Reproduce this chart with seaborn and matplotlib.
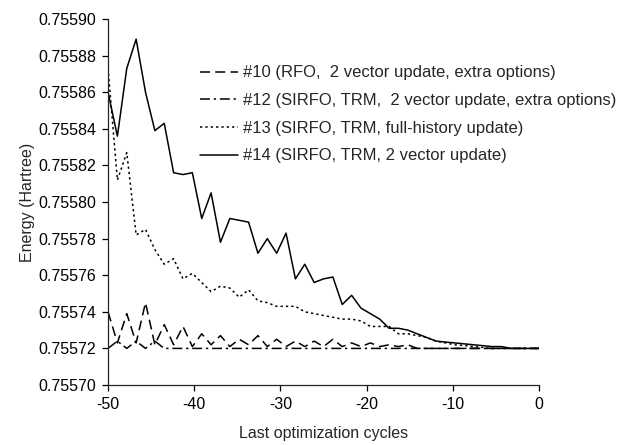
import numpy as np
import pandas as pd
import matplotlib
matplotlib.use("Agg")
import matplotlib.pyplot as plt
import seaborn as sns
from matplotlib.ticker import FormatStrFormatter, MultipleLocator

# last optimization cycles (47 recorded points spanning -50 .. 0)
cycles = np.linspace(-50, 0, 47)

labels = [
    "#10 (RFO,  2 vector update, extra options)",
    "#12 (SIRFO, TRM,  2 vector update, extra options)",
    "#13 (SIRFO, TRM, full-history update)",
    "#14 (SIRFO, TRM, 2 vector update)",
]

# energies (Hartree)
e_run10 = [
    0.755740, 0.755723, 0.755739, 0.755723, 0.755745, 0.755722, 0.755733, 0.755722,
    0.755732, 0.755721, 0.755728, 0.755722, 0.755727, 0.755721, 0.755725, 0.755722,
    0.755727, 0.755721, 0.755725, 0.755721, 0.755724, 0.755721, 0.755724, 0.755721,
    0.755725, 0.755721, 0.755723, 0.755721, 0.755723, 0.755721, 0.755722, 0.755721,
    0.755722, 0.755720, 0.755720, 0.755720, 0.755720, 0.755720, 0.755720, 0.755720,
    0.755720, 0.755720, 0.755720, 0.755720, 0.755720, 0.755720, 0.755720,
]
e_run12 = [
    0.755720, 0.755724, 0.755720, 0.755724, 0.755720, 0.755724, 0.755720, 0.755720,
    0.755720, 0.755720, 0.755720, 0.755720, 0.755720, 0.755720, 0.755720, 0.755720,
    0.755720, 0.755720, 0.755720, 0.755720, 0.755720, 0.755720, 0.755720, 0.755720,
    0.755720, 0.755720, 0.755720, 0.755720, 0.755720, 0.755720, 0.755720, 0.755720,
    0.755720, 0.755720, 0.755720, 0.755720, 0.755720, 0.755720, 0.755720, 0.755720,
    0.755720, 0.755720, 0.755720, 0.755720, 0.755720, 0.755720, 0.755720,
]
e_run13 = [
    0.755873, 0.755812, 0.755827, 0.755782, 0.755785, 0.755774, 0.755766, 0.755769,
    0.755758, 0.755761, 0.755756, 0.755751, 0.755754, 0.755753, 0.755748, 0.755752,
    0.755746, 0.755745, 0.755743, 0.755743, 0.755743, 0.755740, 0.755739, 0.755738,
    0.755737, 0.755736, 0.755736, 0.755735, 0.755732, 0.755732, 0.755732, 0.755728,
    0.755728, 0.755727, 0.755726, 0.755724, 0.755723, 0.755722, 0.7557216, 0.755721,
    0.7557205, 0.755720, 0.755720, 0.755720, 0.755720, 0.755720, 0.755720,
]
e_run14 = [
    0.755860, 0.755836, 0.755873, 0.755889, 0.755860, 0.755839, 0.755843, 0.755816,
    0.755815, 0.755816, 0.755791, 0.755805, 0.755778, 0.755791, 0.755790, 0.755789,
    0.755772, 0.755780, 0.755772, 0.755783, 0.755758, 0.755766, 0.755756, 0.755758,
    0.755759, 0.755744, 0.755749, 0.755742, 0.755739, 0.755736, 0.755731, 0.755731,
    0.755730, 0.755728, 0.755726, 0.755724, 0.7557235, 0.755723, 0.7557225, 0.755722,
    0.7557215, 0.755721, 0.755721, 0.755720, 0.755720, 0.755720, 0.755720,
]

sns.set_style("ticks")
plt.rcParams["font.family"] = ["Liberation Sans", "DejaVu Sans"]
plt.rcParams["axes.linewidth"] = 0.9
plt.rcParams["axes.unicode_minus"] = False

fig = plt.figure(figsize=(6.23, 4.45), dpi=100)
ax = fig.add_axes([0.1734, 0.1348, 0.6918, 0.8225])

styles = [(0, (6.5, 3.5)), (0, (6.5, 2.5, 1.5, 2.5)), (0, (1.5, 2.0)), "-"]
for lab, energy, ls in zip(labels, [e_run10, e_run12, e_run13, e_run14], styles):
    df = pd.DataFrame({"cycle": cycles, "energy": energy})
    sns.lineplot(data=df, x="cycle", y="energy", ax=ax, color="black",
                 linewidth=1.1, linestyle=ls, label=lab)

ax.set_xlim(-50, 0)
ax.set_ylim(0.75570, 0.75590)
ax.xaxis.set_major_locator(MultipleLocator(10))
ax.yaxis.set_major_locator(MultipleLocator(0.00002))
ax.yaxis.set_major_formatter(FormatStrFormatter("%.5f"))
ax.tick_params(labelsize=11.5, length=4.3, width=0.9, pad=4.3, colors="black")
ax.set_xlabel("Last optimization cycles", fontsize=11.5, labelpad=10)
ax.set_ylabel("Energy (Hartree)", fontsize=11.5, labelpad=2)
sns.despine(ax=ax)

ax.legend(loc="upper left", bbox_to_anchor=(0.321, 0.853), bbox_transform=fig.transFigure,
          frameon=False, borderpad=0, borderaxespad=0, handlelength=2.3,
          handletextpad=0.3, labelspacing=0.76, fontsize=12)

fig.savefig("out.png", dpi=100)
